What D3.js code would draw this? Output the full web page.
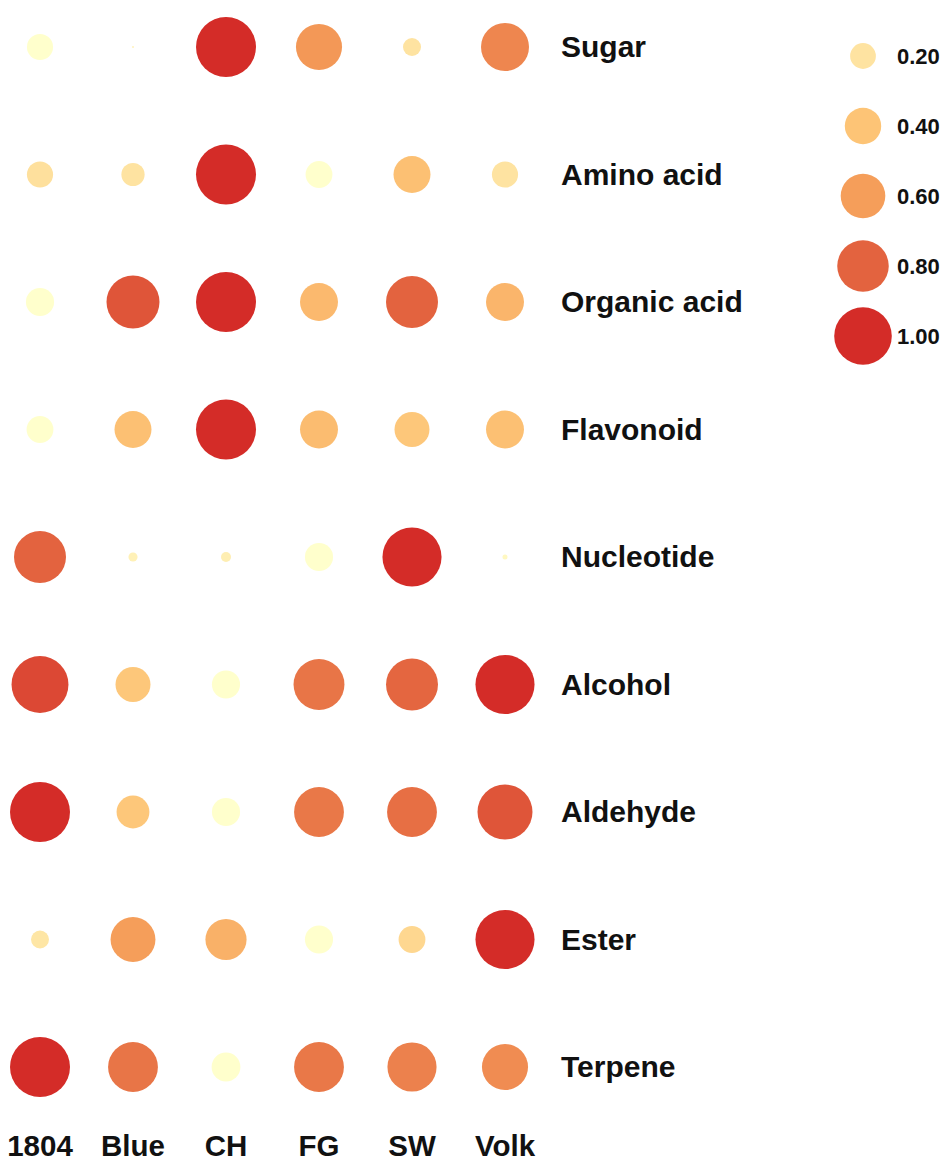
<!DOCTYPE html>
<html>
<head>
<meta charset="utf-8">
<script src="https://cdn.jsdelivr.net/npm/d3@7"></script>
<style>
  html, body { margin: 0; padding: 0; background: #ffffff; }
  svg { display: block; }
  text { font-family: "Liberation Sans", Arial, sans-serif; font-weight: bold; fill: #111; }
</style>
</head>
<body>
<svg id="chart" width="946" height="1161"></svg>
<script>
// ---- data ----
const samples = ["1804", "Blue", "CH", "FG", "SW", "Volk"];
const compounds = ["Sugar", "Amino acid", "Organic acid", "Flavonoid", "Nucleotide",
                   "Alcohol", "Aldehyde", "Ester", "Terpene"];
// relative value encoded by circle size (rows = compounds, cols = samples)
const sizeValues = [
  [0.19, 0.001, 1.00, 0.59, 0.09, 0.64],
  [0.19, 0.15, 1.00, 0.20, 0.38, 0.19],
  [0.22, 0.78, 1.00, 0.40, 0.75, 0.40],
  [0.20, 0.38, 1.00, 0.40, 0.34, 0.40],
  [0.75, 0.023, 0.028, 0.22, 0.97, 0.007],
  [0.90, 0.34, 0.22, 0.72, 0.75, 0.97],
  [1.00, 0.30, 0.22, 0.69, 0.69, 0.84],
  [0.09, 0.56, 0.47, 0.22, 0.20, 0.97],
  [1.00, 0.69, 0.23, 0.69, 0.67, 0.59]
];
// relative value encoded by circle colour
const colorValues = [
  [0.00, 0.10, 1.00, 0.62, 0.20, 0.68],
  [0.22, 0.20, 1.00, 0.00, 0.42, 0.20],
  [0.00, 0.85, 1.00, 0.46, 0.80, 0.48],
  [0.00, 0.42, 1.00, 0.44, 0.38, 0.42],
  [0.80, 0.10, 0.12, 0.00, 1.00, 0.05],
  [0.90, 0.38, 0.00, 0.74, 0.79, 1.00],
  [1.00, 0.38, 0.00, 0.73, 0.76, 0.85],
  [0.18, 0.60, 0.50, 0.00, 0.28, 1.00],
  [1.00, 0.74, 0.00, 0.73, 0.70, 0.66]
];
const legendTicks = [0.20, 0.40, 0.60, 0.80, 1.00];

// ---- scales ----
const svg = d3.select("#chart");
const x = d3.scalePoint().domain(samples).range([40, 505]);
const y = d3.scalePoint().domain(compounds).range([47, 1067]);
const r = d3.scaleSqrt().domain([0, 1]).range([0, 30]);
const color = d3.scaleLinear()
  .domain([0, 0.2, 0.4, 0.6, 0.8, 1.0])
  .range(["#ffffcc", "#fee3a1", "#fdc476", "#f59e5a", "#e3633f", "#d42c28"])
  .interpolate(d3.interpolateRgb);

const cells = [];
compounds.forEach((c, i) => samples.forEach((s, j) => {
  cells.push({ compound: c, sample: s, size: sizeValues[i][j], col: colorValues[i][j] });
}));

svg.append("g").selectAll("circle").data(cells).join("circle")
  .attr("cx", d => x(d.sample))
  .attr("cy", d => y(d.compound))
  .attr("r", d => r(d.size))
  .attr("fill", d => color(d.col));

// row labels
svg.append("g").selectAll("text").data(compounds).join("text")
  .attr("x", 561)
  .attr("y", d => y(d) + 10)
  .attr("font-size", 30)
  .text(d => d);

// column labels
svg.append("g").selectAll("text").data(samples).join("text")
  .attr("x", d => x(d))
  .attr("y", 1156)
  .attr("text-anchor", "middle")
  .attr("font-size", 29.5)
  .text(d => d);

// legend
const ly = d3.scalePoint().domain(legendTicks).range([56, 336]);
const lg = svg.append("g");
lg.selectAll("circle").data(legendTicks).join("circle")
  .attr("cx", 863)
  .attr("cy", d => ly(d))
  .attr("r", d => r(d) * 0.96)
  .attr("fill", d => color(d));
lg.selectAll("text").data(legendTicks).join("text")
  .attr("x", 897)
  .attr("y", d => ly(d) + 8)
  .attr("font-size", 22)
  .text(d => d3.format(".2f")(d));
</script>
</body>
</html>
